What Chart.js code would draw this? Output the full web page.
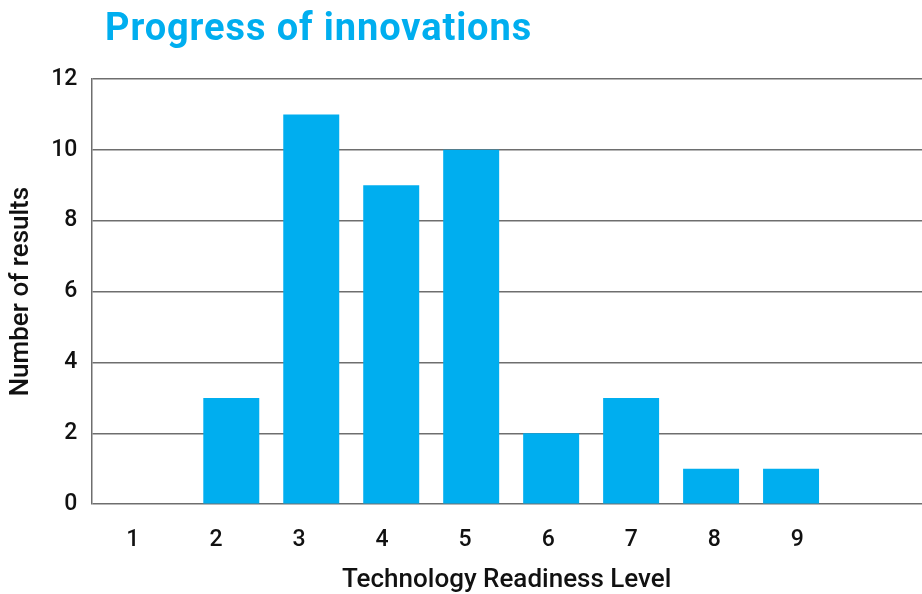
<!DOCTYPE html>
<html>
<head>
<meta charset="utf-8">
<script src="https://cdn.jsdelivr.net/npm/chart.js@4/dist/chart.umd.min.js"></script>
<style>
  html, body { margin: 0; padding: 0; background: #fff; }
  #wrap { position: relative; width: 922px; height: 594px; }
  #title {
    position: absolute; left: 105px; top: 5px;
    font-family: Roboto, sans-serif; font-weight: bold; font-size: 38px;
    color: #00aeef; letter-spacing: 0.9px;
  }
</style>
</head>
<body>
<div id="wrap">
  <div id="title">Progress of innovations</div>
  <canvas id="chart" width="922" height="594"></canvas>
</div>
<script>
// Technology Readiness Levels and number of results
const levels = [1, 2, 3, 4, 5, 6, 7, 8, 9];
const counts = [0, 3, 11, 9, 10, 2, 3, 1, 1];
const tickLabels = ["1", "2", "3", "4", "5", "6", "7", "8", "9", ""];
const yTicks = [0, 2, 4, 6, 8, 10, 12];

const gridColor = "#6e6e6e";
const textColor = "#111";

const ctx = document.getElementById("chart").getContext("2d");
const myChart = new Chart(ctx, {
  type: "bar",
  data: {
    labels: tickLabels,
    datasets: [
      {
        label: "Number of results",
        data: levels.map((lvl, i) => ({ x: lvl, y: counts[i] })),
        xAxisID: "xb",
        backgroundColor: "#00aeef",
        borderWidth: 0,
        barPercentage: 0.7,
        categoryPercentage: 1,
      },
    ],
  },
  options: {
    responsive: false,
    animation: false,
    layout: { padding: { top: 79, left: 6, right: 0, bottom: 0 } },
    plugins: { legend: { display: false }, tooltip: { enabled: false } },
    scales: {
      x: {
        type: "category",
        offset: true,
        grid: { display: false },
        border: { display: false },
        ticks: {
          color: textColor,
          padding: 14,
          font: { family: "Roboto", size: 23, weight: "500" },
        },
        title: {
          display: true,
          text: "Technology Readiness Level",
          color: textColor,
          padding: { top: -3, bottom: -2 },
          font: { family: "Roboto", size: 26, weight: "500" },
        },
      },
      xb: {
        type: "linear",
        display: false,
        min: 0.25,
        max: 10.6375,
        offset: false,
      },
      y: {
        min: 0,
        max: 12,
        afterBuildTicks: (axis) => {
          axis.ticks = yTicks.map((v) => ({ value: v }));
        },
        grid: { color: gridColor, lineWidth: 1.5, drawTicks: false },
        border: { display: true, color: gridColor, width: 1.5 },
        ticks: {
          color: textColor,
          padding: 14,
          font: { family: "Roboto", size: 23, weight: "500" },
        },
        title: {
          display: true,
          text: "Number of results",
          color: textColor,
          padding: { top: 0, bottom: 0 },
          font: { family: "Roboto", size: 26, weight: "500" },
        },
      },
    },
  },
});
</script>
</body>
</html>
